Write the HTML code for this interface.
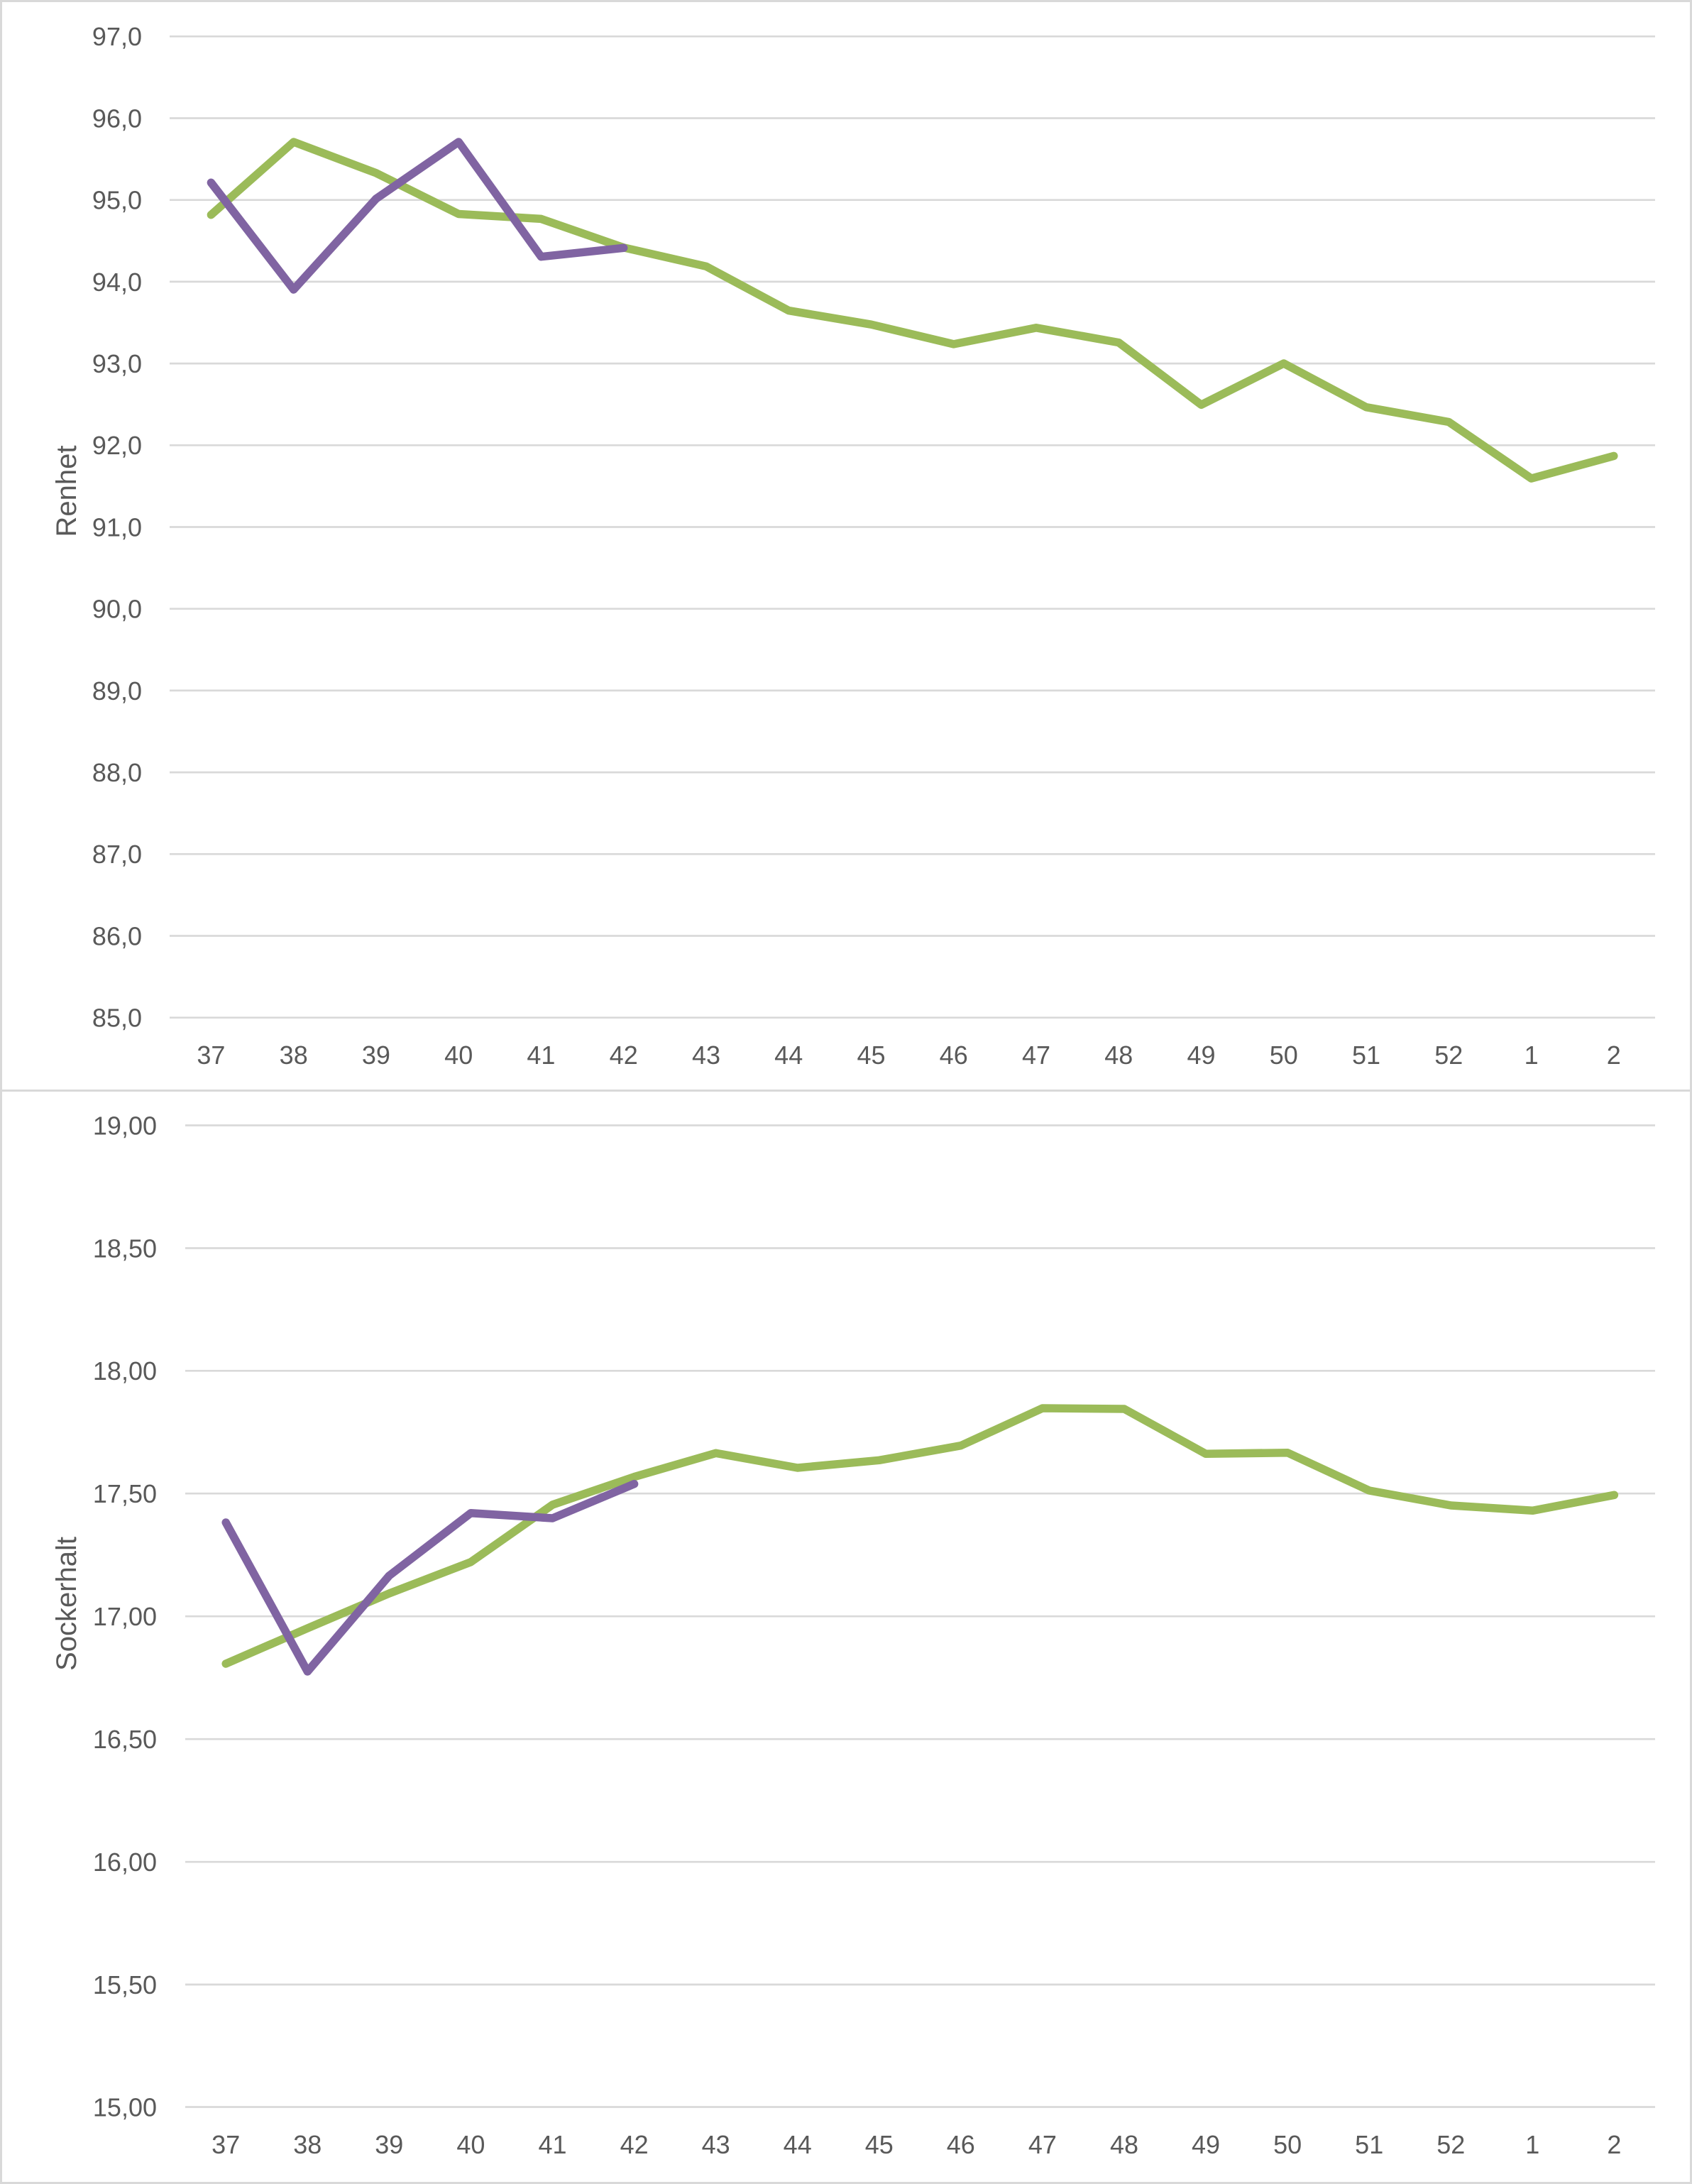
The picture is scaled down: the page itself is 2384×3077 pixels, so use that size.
<!DOCTYPE html>
<html><head><meta charset="utf-8"><style>
html,body{margin:0;padding:0;background:#fff;}
svg{display:block;}
text{font-family:"Liberation Sans",sans-serif;fill:#595959;}
</style></head><body>
<svg width="2384" height="3077" viewBox="0 0 2384 3077" xmlns="http://www.w3.org/2000/svg">
<rect x="0" y="0" width="2384" height="3077" fill="#fff"/>
<!-- borders -->
<rect x="1.5" y="1.5" width="2381" height="1535" fill="none" stroke="#d9d9d9" stroke-width="3"/>
<rect x="1.5" y="1536.5" width="2381" height="1539" fill="none" stroke="#d9d9d9" stroke-width="3"/>

<!-- TOP CHART gridlines -->
<g stroke="#d9d9d9" stroke-width="2.7">
<line x1="239" x2="2332" y1="51.3" y2="51.3"/>
<line x1="239" x2="2332" y1="166.5" y2="166.5"/>
<line x1="239" x2="2332" y1="281.7" y2="281.7"/>
<line x1="239" x2="2332" y1="396.9" y2="396.9"/>
<line x1="239" x2="2332" y1="512.1" y2="512.1"/>
<line x1="239" x2="2332" y1="627.3" y2="627.3"/>
<line x1="239" x2="2332" y1="742.5" y2="742.5"/>
<line x1="239" x2="2332" y1="857.7" y2="857.7"/>
<line x1="239" x2="2332" y1="972.9" y2="972.9"/>
<line x1="239" x2="2332" y1="1088.1" y2="1088.1"/>
<line x1="239" x2="2332" y1="1203.3" y2="1203.3"/>
<line x1="239" x2="2332" y1="1318.5" y2="1318.5"/>
<line x1="239" x2="2332" y1="1433.7" y2="1433.7"/>
</g>
<g font-size="36" text-anchor="end">
<text x="200" y="64.2">97,0</text>
<text x="200" y="179.4">96,0</text>
<text x="200" y="294.6">95,0</text>
<text x="200" y="409.8">94,0</text>
<text x="200" y="525">93,0</text>
<text x="200" y="640.2">92,0</text>
<text x="200" y="755.4">91,0</text>
<text x="200" y="870.6">90,0</text>
<text x="200" y="985.8">89,0</text>
<text x="200" y="1101">88,0</text>
<text x="200" y="1216.2">87,0</text>
<text x="200" y="1331.4">86,0</text>
<text x="200" y="1446.6">85,0</text>
</g>
<g font-size="36" text-anchor="middle">
<text x="297.4" y="1499">37</text>
<text x="413.7" y="1499">38</text>
<text x="529.9" y="1499">39</text>
<text x="646.2" y="1499">40</text>
<text x="762.4" y="1499">41</text>
<text x="878.7" y="1499">42</text>
<text x="995" y="1499">43</text>
<text x="1111.2" y="1499">44</text>
<text x="1227.5" y="1499">45</text>
<text x="1343.7" y="1499">46</text>
<text x="1460" y="1499">47</text>
<text x="1576.3" y="1499">48</text>
<text x="1692.5" y="1499">49</text>
<text x="1808.8" y="1499">50</text>
<text x="1925" y="1499">51</text>
<text x="2041.3" y="1499">52</text>
<text x="2157.6" y="1499">1</text>
<text x="2273.8" y="1499">2</text>
</g>
<text font-size="40" text-anchor="middle" transform="translate(107,692) rotate(-90)">Renhet</text>

<polyline fill="none" stroke="#9bbb59" stroke-width="11.5" stroke-linejoin="round" stroke-linecap="round"
points="297.4,302.7 413.7,200 529.9,243.8 646.2,301.5 762.4,308.4 878.7,348.8 995,375.3 1111.2,437.6 1227.5,457.2 1343.7,484.9 1460,461.8 1576.3,482.6 1692.5,570.3 1808.8,512 1925,573.7 2041.3,594.5 2157.6,674.1 2273.8,642.4"/>
<polyline fill="none" stroke="#8064a2" stroke-width="11.5" stroke-linejoin="round" stroke-linecap="round"
points="297.4,257.3 413.7,408 529.9,280 646.2,200 762.4,361.7 878.7,349.3"/>

<!-- BOTTOM CHART -->
<g stroke="#d9d9d9" stroke-width="2.7">
<line x1="261" x2="2332" y1="1585.5" y2="1585.5"/>
<line x1="261" x2="2332" y1="1758.5" y2="1758.5"/>
<line x1="261" x2="2332" y1="1931.3" y2="1931.3"/>
<line x1="261" x2="2332" y1="2104.2" y2="2104.2"/>
<line x1="261" x2="2332" y1="2277.2" y2="2277.2"/>
<line x1="261" x2="2332" y1="2450.2" y2="2450.2"/>
<line x1="261" x2="2332" y1="2623.2" y2="2623.2"/>
<line x1="261" x2="2332" y1="2796" y2="2796"/>
<line x1="261" x2="2332" y1="2968.5" y2="2968.5"/>
</g>
<g font-size="36" text-anchor="end">
<text x="221" y="1598.4">19,00</text>
<text x="221" y="1771.4">18,50</text>
<text x="221" y="1944.2">18,00</text>
<text x="221" y="2117.1">17,50</text>
<text x="221" y="2290.1">17,00</text>
<text x="221" y="2463.1">16,50</text>
<text x="221" y="2636.1">16,00</text>
<text x="221" y="2808.9">15,50</text>
<text x="221" y="2981.4">15,00</text>
</g>
<g font-size="36" text-anchor="middle">
<text x="318.2" y="3034">37</text>
<text x="433.3" y="3034">38</text>
<text x="548.3" y="3034">39</text>
<text x="663.4" y="3034">40</text>
<text x="778.5" y="3034">41</text>
<text x="893.6" y="3034">42</text>
<text x="1008.6" y="3034">43</text>
<text x="1123.7" y="3034">44</text>
<text x="1238.8" y="3034">45</text>
<text x="1353.8" y="3034">46</text>
<text x="1468.9" y="3034">47</text>
<text x="1584" y="3034">48</text>
<text x="1699" y="3034">49</text>
<text x="1814.1" y="3034">50</text>
<text x="1929.2" y="3034">51</text>
<text x="2044.3" y="3034">52</text>
<text x="2159.3" y="3034">1</text>
<text x="2274.4" y="3034">2</text>
</g>
<text font-size="40" text-anchor="middle" transform="translate(107,2259.5) rotate(-90)">Sockerhalt</text>

<polyline fill="none" stroke="#9bbb59" stroke-width="11.5" stroke-linejoin="round" stroke-linecap="round"
points="318.2,2344 433.3,2294 548.3,2245 663.4,2200.7 778.5,2120 893.6,2080.7 1008.6,2047.3 1123.7,2068 1238.8,2057.3 1353.8,2036.7 1468.9,1984 1584,1985 1699,2048.3 1814.1,2046.7 1929.2,2100 2044.3,2121 2159.3,2128.3 2274.4,2106.3"/>
<polyline fill="none" stroke="#8064a2" stroke-width="11.5" stroke-linejoin="round" stroke-linecap="round"
points="318.2,2145 433.3,2355 548.3,2220 663.4,2131.7 778.5,2139 893.6,2090.7"/>
</svg>
</body></html>
